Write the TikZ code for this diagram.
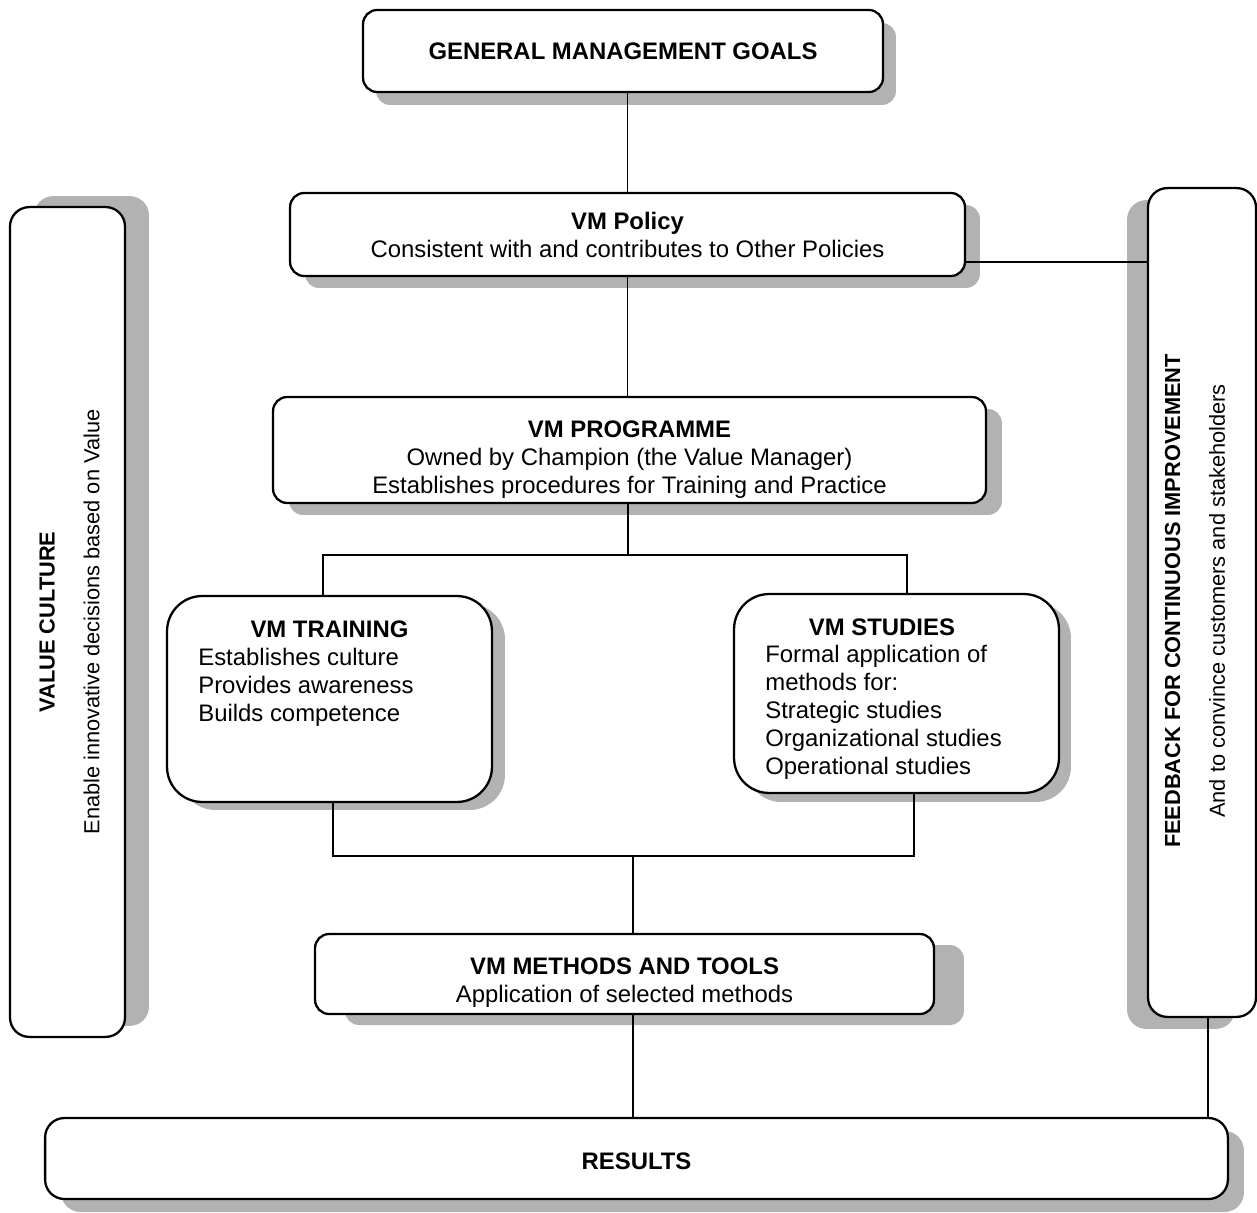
\documentclass[tikz,border=0pt]{standalone}
\usepackage{fontspec}
\setmainfont{Liberation Sans}
\usetikzlibrary{shadows, calc}

\begin{document}
\begin{tikzpicture}[
    x=0.02cm, y=-0.02cm,
    box/.style={draw, line width=1.3pt, fill=white, rounded corners=8pt, align=center, inner sep=0pt, font=\fontsize{13.6}{15.9}\selectfont},
    roundbox/.style={box, rounded corners=20pt},
    boxshadow/.style 2 args={drop shadow={shadow xshift=#1, shadow yshift=#2, fill=black!30, opacity=1}},
    txt/.style={align=left, inner sep=0pt, font=\fontsize{13.6}{15.9}\selectfont},
    sidetxt/.style={align=center, inner sep=0pt, rotate=90, font=\fontsize{12.4}{14.5}\selectfont},
    link/.style={line width=0.8pt}
]
    \useasboundingbox (0,0) rectangle (1257,1213);

    % Top of the chain
    \node[box, boxshadow={0.26cm}{-0.26cm}, minimum width=10.4cm, minimum height=1.64cm] (goals) at (623,51) {\textbf{GENERAL MANAGEMENT GOALS}};
    \node[box, boxshadow={0.3cm}{-0.24cm}, minimum width=13.5cm, minimum height=1.66cm] (policy) at (627.5,234.5) {\textbf{VM Policy}\\Consistent with and contributes to Other Policies};
    \node[box, boxshadow={0.32cm}{-0.24cm}, minimum width=14.26cm, minimum height=2.12cm] (prog) at (629.5,450) {\rule{0pt}{20pt}\textbf{VM PROGRAMME}\\Owned by Champion (the Value Manager)\\Establishes procedures for Training and Practice};

    % Training and studies
    \node[roundbox, boxshadow={0.26cm}{-0.16cm}, minimum width=6.5cm, minimum height=4.12cm] (train) at (329.5,699) {};
    \node[txt] (trainT) at (329.5,629) {\textbf{VM TRAINING}};
    \node[txt, anchor=west] (trainB) at (198,687) {Establishes culture\\Provides awareness\\Builds competence};

    \node[roundbox, boxshadow={0.24cm}{-0.18cm}, minimum width=6.5cm, minimum height=3.98cm] (studies) at (896.5,693.5) {};
    \node[txt] (studiesT) at (882,627) {\textbf{VM STUDIES}};
    \node[txt, anchor=west] (studiesB) at (765,712) {Formal application of\\methods for:\\Strategic studies\\Organizational studies\\Operational studies};

    % Methods and results
    \node[box, boxshadow={0.6cm}{-0.22cm}, minimum width=12.38cm, minimum height=1.6cm] (methods) at (624.5,974) {\rule{0pt}{19pt}\textbf{VM METHODS AND TOOLS}\\Application of selected methods};
    \node[box, rounded corners=11pt, boxshadow={0.32cm}{-0.26cm}, minimum width=23.66cm, minimum height=1.62cm] (results) at (636.5,1158.5) {\rule{0pt}{13pt}\textbf{RESULTS}};

    % Side columns
    \node[box, rounded corners=11pt, boxshadow={0.48cm}{0.22cm}, minimum width=2.3cm, minimum height=16.6cm] (culture) at (67.5,622) {};
    \node[sidetxt] (cultureT) at (69.5,622) {\textbf{VALUE CULTURE}\\[11pt]Enable innovative decisions based on Value};

    \node[box, rounded corners=11pt, boxshadow={-0.42cm}{-0.24cm}, minimum width=2.16cm, minimum height=16.58cm] (feed) at (1202,602.5) {};
    \node[sidetxt] (feedT) at (1195,601) {\textbf{FEEDBACK FOR CONTINUOUS IMPROVEMENT}\\[11pt]And to convince customers and stakeholders};

    % Connectors
    \coordinate (split) at (628,555);
    \coordinate (join) at (633,856);
    \draw[link] (policy.north) -- (policy.north |- goals.south);
    \draw[link] (policy.south) -- (policy.south |- prog.north);
    \draw[link] ([yshift=-0.55cm]policy.east) -- ([yshift=-0.55cm]policy.east -| feed.west);
    \draw[link] (split |- prog.south) -- (split);
    \draw[link] ([xshift=-0.13cm]train.north) |- (split) -| ([xshift=0.21cm]studies.north);
    \draw[link] ([xshift=0.07cm]train.south) |- (join) -| ([xshift=0.35cm]studies.south);
    \draw[link] (join) -- (join |- methods.north);
    \draw[link] ([xshift=0.17cm]methods.south) -- ([xshift=0.17cm]methods.south |- results.north);
    \draw[link] ([xshift=0.12cm]feed.south) -- ([xshift=0.12cm]feed.south |- results.north);
\end{tikzpicture}
\end{document}
